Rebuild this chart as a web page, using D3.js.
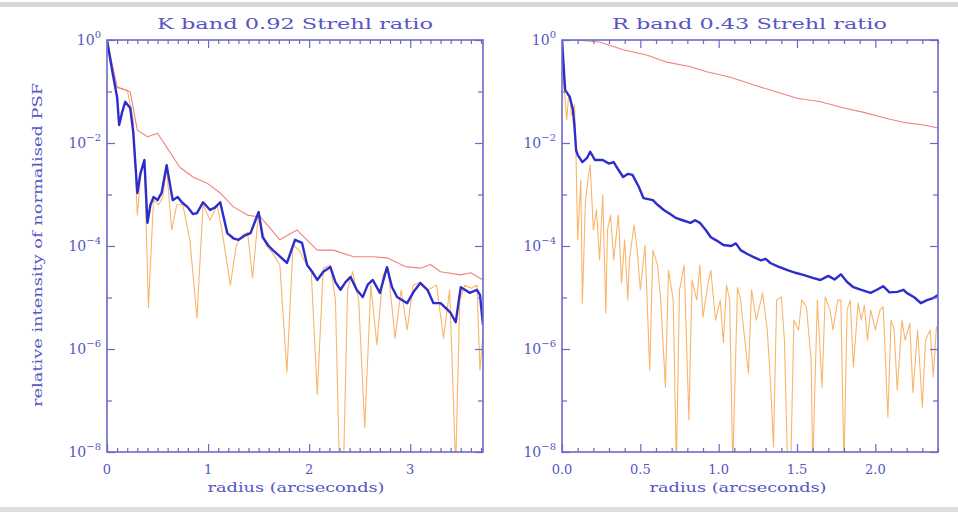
<!DOCTYPE html>
<html><head><meta charset="utf-8">
<script src="https://cdn.jsdelivr.net/npm/d3@7"></script>
<style>body{margin:0;background:#fff}svg{display:block}</style>
</head><body>
<svg id="c" width="958" height="512"></svg>
<script>
// ---------- DATA (radius in arcsec, log10 of relative intensity) ----------
const titles = ["K band 0.92 Strehl ratio", "R band 0.43 Strehl ratio"];
const xLabel = "radius (arcseconds)";
const yLabel = "relative intensity of normalised PSF";
const yExponents = [0, -2, -4, -6, -8];
const yMinorExponents = [-1, -3, -5, -7];
const kXTicks = [0, 1, 2, 3];
const rXTicks = [0, 0.5, 1.0, 1.5, 2.0];

// K band
const kRedR   = [0,0.10,0.23,0.30,0.40,0.50,0.59,0.72,0.85,0.99,1.12,1.25,1.39,1.52,1.71,1.88,2.08,2.24,2.44,2.63,2.77,2.95,3.10,3.20,3.30,3.50,3.60,3.72];
const kRedLog = [0,-0.91,-1.01,-1.75,-1.88,-1.81,-2.08,-2.47,-2.66,-2.78,-2.97,-3.24,-3.40,-3.44,-3.88,-3.69,-4.08,-4.08,-4.21,-4.21,-4.23,-4.40,-4.43,-4.36,-4.50,-4.56,-4.52,-4.66];

const kBlueR   = [0,0.05,0.10,0.12,0.15,0.18,0.23,0.26,0.30,0.33,0.37,0.40,0.43,0.46,0.50,0.54,0.59,0.65,0.70,0.74,0.80,0.85,0.89,0.95,1.02,1.07,1.12,1.19,1.25,1.30,1.36,1.42,1.50,1.54,1.60,1.64,1.71,1.78,1.86,1.93,1.98,2.03,2.08,2.14,2.21,2.26,2.31,2.36,2.41,2.47,2.53,2.58,2.63,2.70,2.77,2.82,2.87,2.97,3.03,3.10,3.17,3.23,3.30,3.35,3.40,3.45,3.50,3.59,3.66,3.69,3.72];
const kBlueLog = [0,-0.58,-1.11,-1.65,-1.40,-1.20,-1.32,-1.80,-2.97,-2.60,-2.33,-3.55,-3.20,-3.05,-3.11,-2.97,-2.43,-3.11,-3.05,-3.15,-3.25,-3.38,-3.36,-3.15,-3.30,-3.25,-3.15,-3.75,-3.85,-3.88,-3.80,-3.75,-3.34,-3.83,-4.00,-4.08,-4.20,-4.33,-3.88,-3.94,-4.37,-4.50,-4.66,-4.50,-4.41,-4.70,-4.85,-4.70,-4.60,-4.85,-4.99,-4.75,-4.66,-4.91,-4.41,-4.80,-4.99,-5.11,-4.90,-4.72,-4.85,-5.11,-5.11,-5.20,-5.30,-5.48,-4.80,-4.91,-4.85,-4.95,-5.53];

const kOrangeR   = [0,0.05,0.10,0.20,0.26,0.30,0.34,0.37,0.41,0.46,0.51,0.55,0.59,0.64,0.69,0.75,0.82,0.89,0.95,1.02,1.09,1.14,1.22,1.28,1.34,1.39,1.44,1.50,1.57,1.65,1.71,1.78,1.84,1.90,1.96,2.02,2.08,2.14,2.21,2.26,2.30,2.34,2.38,2.43,2.49,2.55,2.61,2.67,2.73,2.78,2.85,2.91,2.97,3.03,3.10,3.18,3.26,3.33,3.39,3.45,3.49,3.54,3.60,3.66,3.69,3.72];
const kOrangeLog = [0,-0.49,-0.93,-0.97,-1.55,-3.40,-2.49,-2.33,-5.20,-3.11,-3.20,-3.07,-2.49,-3.69,-3.20,-3.20,-3.88,-5.40,-3.20,-3.50,-3.20,-3.73,-4.76,-3.98,-3.79,-3.73,-4.62,-3.34,-3.98,-4.17,-4.37,-6.45,-3.98,-4.08,-4.31,-4.47,-6.89,-4.43,-4.37,-5.05,-8.3,-8.3,-4.85,-4.50,-5.05,-7.53,-4.76,-5.92,-4.56,-4.43,-5.79,-4.85,-5.63,-4.76,-4.70,-4.85,-4.76,-5.79,-4.85,-8.3,-5.05,-4.76,-4.82,-4.76,-6.41,-5.70];

// R band
const rRedR   = [0,0.08,0.24,0.39,0.54,0.67,0.82,0.93,1.07,1.22,1.33,1.50,1.65,1.80,1.92,2.08,2.20,2.31,2.40];
const rRedLog = [0,0,-0.04,-0.19,-0.29,-0.43,-0.52,-0.62,-0.72,-0.87,-0.97,-1.13,-1.20,-1.32,-1.40,-1.53,-1.61,-1.65,-1.71];

const rBlueR   = [0,0.02,0.05,0.07,0.08,0.09,0.10,0.13,0.16,0.18,0.21,0.26,0.30,0.33,0.36,0.39,0.42,0.45,0.49,0.52,0.58,0.61,0.65,0.69,0.73,0.77,0.82,0.85,0.88,0.92,0.95,0.99,1.03,1.08,1.11,1.14,1.18,1.22,1.27,1.30,1.33,1.38,1.44,1.49,1.54,1.60,1.65,1.70,1.74,1.78,1.82,1.86,1.91,1.97,2.01,2.05,2.09,2.14,2.18,2.20,2.25,2.29,2.33,2.37,2.40];
const rBlueLog = [0,-0.97,-1.11,-1.36,-1.69,-2.14,-2.23,-2.37,-2.29,-2.17,-2.33,-2.33,-2.40,-2.37,-2.52,-2.66,-2.60,-2.62,-2.85,-3.07,-3.11,-3.20,-3.30,-3.38,-3.46,-3.50,-3.55,-3.50,-3.55,-3.70,-3.83,-3.90,-3.98,-4.00,-3.95,-4.08,-4.15,-4.21,-4.28,-4.25,-4.33,-4.40,-4.47,-4.52,-4.56,-4.62,-4.66,-4.58,-4.65,-4.55,-4.70,-4.80,-4.85,-4.91,-4.85,-4.78,-4.90,-4.89,-4.85,-4.91,-5.00,-5.11,-5.05,-5.01,-4.95];

const rOrangeR   = [0,0.01,0.03,0.04,0.05,0.06,0.08,0.09,0.10,0.12,0.13,0.15,0.17,0.18,0.20,0.22,0.24,0.26,0.28,0.29,0.31,0.33,0.36,0.38,0.40,0.42,0.43,0.46,0.48,0.50,0.53,0.56,0.58,0.61,0.63,0.66,0.68,0.71,0.73,0.75,0.78,0.81,0.83,0.86,0.88,0.90,0.93,0.95,0.98,1.01,1.03,1.05,1.07,1.09,1.12,1.14,1.16,1.19,1.21,1.24,1.27,1.28,1.31,1.33,1.35,1.37,1.40,1.42,1.44,1.46,1.48,1.51,1.53,1.56,1.59,1.60,1.63,1.66,1.68,1.71,1.73,1.76,1.78,1.80,1.82,1.84,1.86,1.89,1.91,1.93,1.95,1.97,2.00,2.03,2.05,2.08,2.10,2.12,2.14,2.17,2.19,2.22,2.24,2.27,2.30,2.32,2.35,2.37,2.39,2.40];
const rOrangeLog = [0,-0.78,-1.55,-1.17,-1.07,-1.46,-1.26,-2.33,-3.88,-2.72,-5.11,-3.11,-2.62,-2.43,-3.69,-3.30,-4.27,-3.01,-5.30,-3.69,-3.40,-4.27,-3.40,-4.72,-3.88,-5.05,-4.27,-3.59,-4.08,-4.85,-3.98,-6.41,-4.08,-4.37,-5.05,-6.74,-4.47,-5.05,-8.3,-4.85,-4.37,-7.38,-4.66,-5.05,-4.37,-5.38,-4.76,-4.47,-5.44,-5.05,-5.88,-4.76,-5.05,-8.3,-4.80,-5.05,-5.63,-6.47,-4.85,-5.44,-5.05,-4.91,-5.63,-6.60,-7.90,-5.05,-4.99,-5.83,-8.3,-8.3,-5.44,-5.63,-5.05,-5.18,-6.21,-8.3,-5.05,-6.74,-4.99,-5.24,-5.63,-5.05,-5.05,-8.3,-5.24,-5.05,-6.35,-5.11,-5.44,-5.15,-5.83,-5.24,-5.63,-5.24,-5.18,-7.32,-5.44,-5.63,-6.80,-5.44,-5.83,-5.50,-6.85,-5.63,-7.13,-5.83,-5.63,-6.54,-5.57,-5.63];

// ---------- DRAWING ----------
const svg = d3.select("#c");
const FONT = "DejaVu Serif";
const TXT = "#5656c4", AX = "#6a6ac8";
const BLUE = "#2d2dcc", RED = "#f28080", ORANGE = "#f9b66a";

svg.append("rect").attr("x",0).attr("y",0).attr("width",958).attr("height",512).attr("fill","#fff");
svg.append("rect").attr("x",0).attr("y",2).attr("width",958).attr("height",5).attr("fill","#d6d6d6");
svg.append("rect").attr("x",0).attr("y",507).attr("width",958).attr("height",5).attr("fill","#dedede");

const zip = (rs, ls) => rs.map((r,i) => [r, Math.pow(10, ls[i])]);

const panels = [
  {id:"k", left:107, right:483, xmax:3.72, xTicks:kXTicks, xFmt:d3.format("d"), minorStep:0.1,
   title:titles[0], titleX:[157,433],
   series:[[zip(kOrangeR,kOrangeLog),ORANGE,1.1],[zip(kRedR,kRedLog),RED,1.1],[zip(kBlueR,kBlueLog),BLUE,2.4]]},
  {id:"r", left:562, right:938, xmax:2.4, xTicks:rXTicks, xFmt:d3.format(".1f"), minorStep:0.1,
   title:titles[1], titleX:[612,887],
   series:[[zip(rOrangeR,rOrangeLog),ORANGE,1.1],[zip(rRedR,rRedLog),RED,1.1],[zip(rBlueR,rBlueLog),BLUE,2.4]]}
];
const plotTop = 40, plotBottom = 452;

panels.forEach(p => {
  const x = d3.scaleLinear().domain([0,p.xmax]).range([p.left,p.right]);
  const y = d3.scaleLog().domain([1e-8,1]).range([plotBottom,plotTop]);
  const g = svg.append("g");

  g.append("clipPath").attr("id","clip-"+p.id).append("rect")
    .attr("x",p.left).attr("y",plotTop).attr("width",p.right-p.left).attr("height",plotBottom-plotTop);

  const line = d3.line().x(d=>x(d[0])).y(d=>y(Math.max(d[1],1e-9)));
  p.series.forEach(([data,color,w]) => {
    g.append("path").datum(data).attr("d",line).attr("fill","none")
      .attr("stroke",color).attr("stroke-width",w).attr("stroke-linejoin","round")
      .attr("clip-path","url(#clip-"+p.id+")");
  });

  const minor = d3.range(0, p.xmax+1e-9, p.minorStep).filter(v => !p.xTicks.some(t=>Math.abs(t-v)<1e-6));
  const styleAxis = sel => { sel.select(".domain").remove(); sel.selectAll("line").attr("stroke",AX).attr("stroke-width",1.2); };
  g.append("g").attr("transform",`translate(0,${plotBottom})`).call(d3.axisBottom(x).tickValues(minor).tickSize(-4).tickFormat("")).call(styleAxis);
  g.append("g").attr("transform",`translate(0,${plotBottom})`).call(d3.axisBottom(x).tickValues(p.xTicks).tickSize(-8).tickFormat("")).call(styleAxis);
  g.append("g").attr("transform",`translate(0,${plotTop})`).call(d3.axisTop(x).tickValues(minor).tickSize(-4).tickFormat("")).call(styleAxis);
  g.append("g").attr("transform",`translate(0,${plotTop})`).call(d3.axisTop(x).tickValues(p.xTicks).tickSize(-8).tickFormat("")).call(styleAxis);
  const yMaj = yExponents.map(e=>Math.pow(10,e)), yMin = yMinorExponents.map(e=>Math.pow(10,e));
  g.append("g").attr("transform",`translate(${p.left},0)`).call(d3.axisLeft(y).tickValues(yMaj).tickSize(-8).tickFormat("")).call(styleAxis);
  g.append("g").attr("transform",`translate(${p.left},0)`).call(d3.axisLeft(y).tickValues(yMin).tickSize(-5).tickFormat("")).call(styleAxis);
  g.append("g").attr("transform",`translate(${p.right},0)`).call(d3.axisRight(y).tickValues(yMaj).tickSize(-8).tickFormat("")).call(styleAxis);
  g.append("g").attr("transform",`translate(${p.right},0)`).call(d3.axisRight(y).tickValues(yMin).tickSize(-5).tickFormat("")).call(styleAxis);

  g.append("rect").attr("x",p.left).attr("y",plotTop).attr("width",p.right-p.left).attr("height",plotBottom-plotTop)
    .attr("fill","none").attr("stroke",AX).attr("stroke-width",1.6);

  yExponents.forEach(e => {
    const t = g.append("text").attr("x",p.left-6).attr("y",y(Math.pow(10,e))+5)
      .attr("text-anchor","end").attr("font-family",FONT).attr("font-size",14).attr("fill",TXT);
    t.append("tspan").text("10");
    t.append("tspan").attr("dy",-7).attr("font-size",10).text(e===0?"0":"\u2212"+(-e));
  });
  p.xTicks.forEach(v => {
    g.append("text").attr("x",x(v)).attr("y",plotBottom+22).attr("text-anchor","middle")
      .attr("font-family",FONT).attr("font-size",13).attr("fill",TXT).text(p.xFmt(v));
  });
  const cx = (p.left+p.right)/2 + (p.id==="k"?1:-12);
  g.append("text").attr("x",cx).attr("y",492).attr("text-anchor","middle")
    .attr("font-family",FONT).attr("font-size",13).attr("fill",TXT)
    .attr("textLength",177).attr("lengthAdjust","spacingAndGlyphs").text(xLabel);
  g.append("text").attr("x",p.titleX[0]).attr("y",29)
    .attr("font-family",FONT).attr("font-size",15).attr("fill",TXT)
    .attr("textLength",p.titleX[1]-p.titleX[0]).attr("lengthAdjust","spacingAndGlyphs").text(p.title);
});

svg.append("text").attr("transform","translate(42,245) rotate(-90)").attr("text-anchor","middle")
  .attr("font-family",FONT).attr("font-size",13).attr("fill",TXT)
  .attr("textLength",324).attr("lengthAdjust","spacingAndGlyphs").text(yLabel);
</script>
</body></html>
